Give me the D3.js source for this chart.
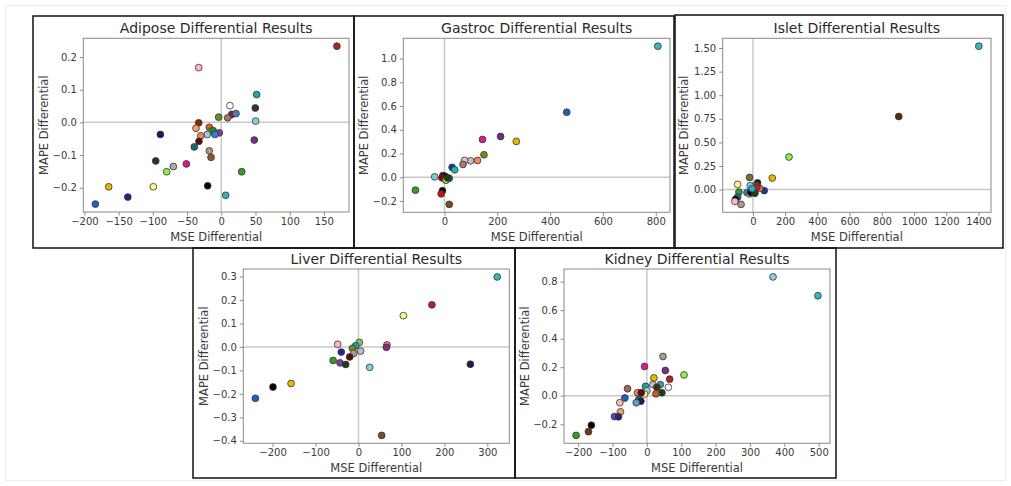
<!DOCTYPE html>
<html><head><meta charset="utf-8">
<script src="https://cdn.jsdelivr.net/npm/d3@7"></script>
<style>
body{margin:0;background:#fff;}
svg{display:block;font-family:"DejaVu Sans",sans-serif;}
</style></head><body><svg id="c" width="1011" height="486"></svg>
<script>
// ---------- DATA ----------
const adiposeX = [169,-33,51.7,12.7,49.7,15.2,21.5,9.3,-3.8,50.2,-33,-37,-17.5,-15,-12,-2.9,-9.2,-20.4,-30,-32.6,-39.4,-89,-17.5,-15,-95.8,-51,-70,-79.8,29.8,-99.3,-19.9,6.4,48.2,-164.5,-136.6,-184];
const adiposeY = [0.233,0.1675,0.085,0.051,0.044,0.024,0.027,0.014,0.016,0.004,-0.0015,-0.018,-0.015,-0.028,-0.025,-0.032,-0.037,-0.037,-0.041,-0.058,-0.075,-0.037,-0.087,-0.107,-0.118,-0.127,-0.135,-0.151,-0.151,-0.197,-0.194,-0.223,-0.054,-0.197,-0.2285,-0.25];
const adiposeColors = ["#b22222","#ffb6c1","#1fa8b8","#ffffff","#333333","#8b1a4a","#4682b4","#a0785a","#6b8e23","#7fd3e0","#8b2500","#f4a460","#e0601a","#9acd32","#228b22","#7b3f9e","#3a7bd5","#a8c8d8","#fa8060","#5a0a0a","#1a6b70","#141e5a","#a89a90","#8b5a2b","#1c3d1c","#d02090","#a9a9a9","#90ee50","#3a9a2a","#fff68f","#000000","#3ab0b0","#7b2a8e","#e6b800","#1a2a8a","#1f5fbf"];
const adiposeXTicks = [-200,-150,-100,-50,0,50,100,150];
const adiposeYTicks = [-0.2,-0.1,0.0,0.1,0.2];

const gastrocX = [808,463,212.5,144,272,149.5,125,99,76,70,29,39,-37,-6,1.6,-9.5,18,5.3,12,-110,-7.6,-12.5,18];
const gastrocY = [1.104,0.548,0.343,0.318,0.302,0.189,0.141,0.138,0.142,0.108,0.083,0.062,0.003,0.014,0.008,-0.005,-0.009,-0.026,-0.005,-0.109,-0.114,-0.14,-0.229];
const gastrocColors = ["#3ab8b8","#1f5fbf","#6a2a8e","#d02090","#e6b800","#6b8e23","#fa8060","#c0c0c0","#ffb6c1","#a08070","#1a3a9a","#20b2c0","#7fc8d8","#1a1a1a","#000000","#8b0000","#1a6b70","#9acd32","#1c3d1c","#3a9a2a","#000000","#cc1010","#7a4a2a"];
const gastrocXTicks = [0,200,400,600,800];
const gastrocYTicks = [-0.2,0.0,0.2,0.4,0.6,0.8,1.0];

const isletX = [1402,905,224,120,-21,-95,-87,-95,-108,-112,-74,70,28.6,21,8,-17,41,-37,-21,-13,12.4,25,-5];
const isletY = [1.519,0.774,0.345,0.122,0.129,0.055,-0.026,-0.08,-0.103,-0.125,-0.157,-0.011,0.071,0.046,0.035,0.042,0.014,-0.032,-0.046,-0.032,-0.039,0.025,0.01];
const isletColors = ["#3ab8b8","#5a2a0a","#90ee50","#e6b800","#6b7a23","#fff68f","#3a9a2a","#1f5fbf","#000000","#ffb6c1","#a89a90","#1a3a9a","#1a1a1a","#555555","#e0601a","#7fc8e0","#fa8060","#3a7bd5","#c0c0c0","#000000","#1c3d1c","#b22222","#20b2c0"];
const isletXTicks = [0,200,400,600,800,1000,1200,1400];
const isletYTicks = [0.0,0.25,0.5,0.75,1.0,1.25,1.5];

const liverX = [323,171,104.5,260.5,66.3,65,26,54,-157,-199,-240,-48.4,2,-6.5,-14,5,-11,-20.5,-40,-59,-43,-29.8];
const liverY = [0.298,0.179,0.133,-0.074,0.008,-0.002,-0.087,-0.377,-0.156,-0.171,-0.219,0.011,0.019,0.005,-0.006,-0.018,-0.028,-0.043,-0.022,-0.058,-0.068,-0.075];
const liverColors = ["#3ab8b8","#b22222","#fff68f","#141e5a","#fa8060","#8e2a8e","#7fd3e0","#7a4a2a","#e6b800","#000000","#1f5fbf","#ffb6c1","#7ec850","#20a0b0","#6b8e23","#c0c0c0","#b09a90","#5a0a0a","#1a2a9a","#3a9a2a","#7b3f9e","#1c3d1c"];
const liverXTicks = [-200,-100,0,100,200,300];
const liverYTicks = [-0.4,-0.3,-0.2,-0.1,0.0,0.1,0.2,0.3];

const kidneyX = [367,497.6,108,46.8,-6.8,53.7,66.3,20.5,17.5,39,29,62.5,43.8,26.3,-3.8,0,-6.8,-56.4,-27.2,-16.4,-23.4,-17.5,-31,-64,-78.8,-76.8,-94.3,-82.6,-161.5,-170,-206];
const kidneyY = [0.833,0.701,0.146,0.275,0.205,0.177,0.116,0.125,0.078,0.078,0.059,0.059,0.021,0.014,0.066,0.035,0.012,0.049,0.021,0.021,-0.026,-0.038,-0.049,-0.016,-0.049,-0.113,-0.146,-0.148,-0.207,-0.252,-0.278];
const kidneyColors = ["#7fd3e0","#3ab8b8","#90ee50","#a89a90","#d02090","#7b2a8e","#b22222","#e6b800","#c0c0c0","#5a8ab0","#2a3a1a","#ffffff","#1c3d1c","#d2541e","#20a0b0","#a0d0e0","#fff68f","#9a6a4a","#fa8060","#5a0a0a","#1a6b70","#141e5a","#5aa0d0","#1f5fbf","#ffb6c1","#f4a460","#7b3f9e","#1a2a8a","#000000","#6a3a1a","#3a9a2a"];
const kidneyXTicks = [-200,-100,0,100,200,300,400,500];
const kidneyYTicks = [-0.2,0.0,0.2,0.4,0.6,0.8];

// ---------- LAYOUT ----------
const panels = [
  {title:"Adipose Differential Results", xs:adiposeX, ys:adiposeY, cs:adiposeColors, xt:adiposeXTicks, yt:adiposeYTicks, yf:".1f",
   frame:[33,16,354,248], plot:[83.3,38.3,349,212]},
  {title:"Gastroc Differential Results", xs:gastrocX, ys:gastrocY, cs:gastrocColors, xt:gastrocXTicks, yt:gastrocYTicks, yf:".1f",
   frame:[354,16,674,248], plot:[403.3,38.3,670,212.3]},
  {title:"Islet Differential Results", xs:isletX, ys:isletY, cs:isletColors, xt:isletXTicks, yt:isletYTicks, yf:".2f",
   frame:[675,15,1003,248], plot:[722.7,38.3,991,212.3]},
  {title:"Liver Differential Results", xs:liverX, ys:liverY, cs:liverColors, xt:liverXTicks, yt:liverYTicks, yf:".1f",
   frame:[193,248,515,478], plot:[243.3,269,509.3,443.3]},
  {title:"Kidney Differential Results", xs:kidneyX, ys:kidneyY, cs:kidneyColors, xt:kidneyXTicks, yt:kidneyYTicks, yf:".1f",
   frame:[515,248,836,478], plot:[564,269,830,443.3]}
];

const svg = d3.select("#c");
svg.append("rect").attr("x",5.5).attr("y",5.5).attr("width",1000).attr("height",475)
  .attr("fill","none").attr("stroke","#ececec");

function pad(ext){const r=ext[1]-ext[0];return [ext[0]-0.05*r, ext[1]+0.05*r];}

panels.forEach(p=>{
  const [L,T,R,B] = p.plot;
  const g = svg.append("g");
  const x = d3.scaleLinear().domain(pad(d3.extent(p.xs))).range([L,R]);
  const y = d3.scaleLinear().domain(pad(d3.extent(p.ys))).range([B,T]);

  // zero lines
  g.append("line").attr("x1",L).attr("x2",R).attr("y1",y(0)).attr("y2",y(0))
    .attr("stroke","#c8c8c8").attr("stroke-width",1.5);
  g.append("line").attr("x1",x(0)).attr("x2",x(0)).attr("y1",T).attr("y2",B)
    .attr("stroke","#c8c8c8").attr("stroke-width",1.5);

  // points
  g.selectAll("circle.pt").data(d3.range(p.xs.length)).join("circle")
    .attr("class","pt")
    .attr("cx",i=>x(p.xs[i])).attr("cy",i=>y(p.ys[i])).attr("r",3.4)
    .attr("fill",i=>p.cs[i]).attr("stroke","#333").attr("stroke-width",0.8);

  // spines
  g.append("rect").attr("x",L).attr("y",T).attr("width",R-L).attr("height",B-T)
    .attr("fill","none").attr("stroke","#8a8a8a").attr("stroke-width",1);

  // axes
  const xa = g.append("g").attr("transform",`translate(0,${B})`)
    .call(d3.axisBottom(x).tickValues(p.xt).tickFormat(d3.format("d")).tickSize(3.5).tickPadding(2.5));
  const ya = g.append("g").attr("transform",`translate(${L},0)`)
    .call(d3.axisLeft(y).tickValues(p.yt).tickFormat(d3.format(p.yf)).tickSize(3.5).tickPadding(3));
  [xa,ya].forEach(a=>{
    a.select(".domain").remove();
    a.attr("font-family","DejaVu Sans").attr("font-size",10);
    a.selectAll(".tick line").attr("stroke","#8a8a8a");
    a.selectAll(".tick text").attr("fill","#3a3a3a");
  });

  // title & labels
  g.append("text").attr("x",(L+R)/2).attr("y",T-5).attr("text-anchor","middle")
    .attr("font-size",14).attr("fill","#2a2a2a").text(p.title);
  g.append("text").attr("x",(L+R)/2).attr("y",B+29).attr("text-anchor","middle")
    .attr("font-size",11.5).attr("fill","#3a3a3a").text("MSE Differential");
  g.append("text").attr("transform",`translate(${L-39},${(T+B)/2}) rotate(-90)`)
    .attr("text-anchor","middle").attr("dominant-baseline","central")
    .attr("font-size",11.5).attr("fill","#3a3a3a").text("MAPE Differential");

  // panel frame
  const [fx0,fy0,fx1,fy1] = p.frame;
  svg.append("rect").attr("x",fx0).attr("y",fy0).attr("width",fx1-fx0).attr("height",fy1-fy0)
    .attr("fill","none").attr("stroke","#111").attr("stroke-width",1.5);
});
</script></body></html>
